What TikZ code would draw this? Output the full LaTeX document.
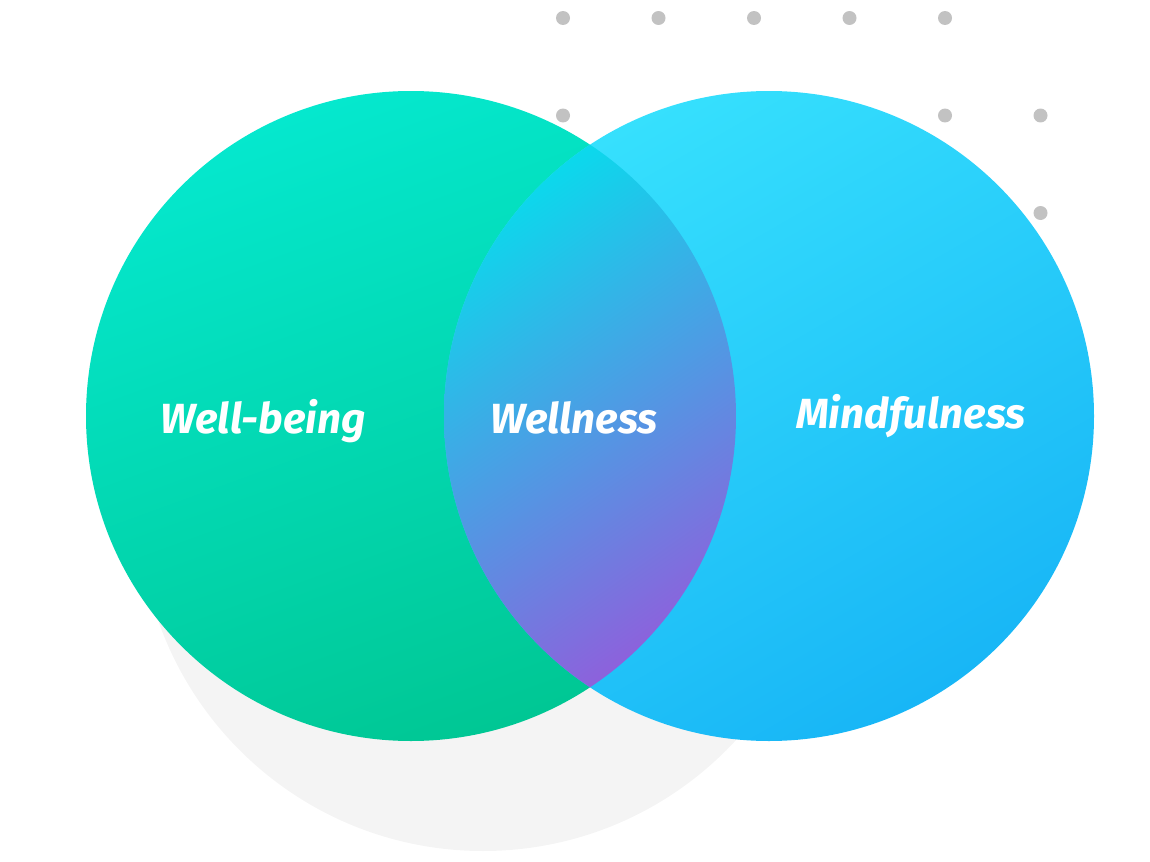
\documentclass[tikz,border=0pt]{standalone}
\usepackage{fontspec}
\newfontfamily\labelfont{Fira Sans}
\usepackage{tikz}
\usetikzlibrary{positioning}
\usetikzlibrary{calc}

\definecolor{wbtop}{HTML}{05E8CE}
\definecolor{wbbot}{HTML}{00C794}
\definecolor{mftop}{HTML}{36E0FD}
\definecolor{mfbot}{HTML}{18B6F6}
\definecolor{wntop}{HTML}{0CD8EC}
\definecolor{wnbot}{HTML}{8C62DC}
\definecolor{backgray}{HTML}{F4F4F4}
\definecolor{dotgray}{HTML}{C2C2C2}

\begin{document}
\begin{tikzpicture}[x=0.02cm, y=-0.02cm,
    dot/.style={circle, fill=dotgray, inner sep=0pt, minimum size=0.28cm},
    vennlabel/.style={inner sep=0pt, anchor=base, text=white, font=\labelfont\bfseries\itshape\fontsize{24}{28}\selectfont}]
      \useasboundingbox (0,0) rectangle (1150,862);
      % Radius of the two venn circles
      \def\radius{325}
      % Position of the first dot and grid steps
      \def\dotx{563}
      \def\doty{18}
      \def\dstep{95.5}
      \def\rstep{97.5}
      % Centres of the circles
      \coordinate (wb) at (411,416);
      \coordinate (mf) at (769,416);
      \coordinate (back) at (483,507);
      % Dots behind the circles, per row the columns that show
      \foreach \row/\cols in {1/{1,2,3,4,5}, 2/{1,5,6}, 3/{6}} {
        \foreach \col in \cols {
          \node[dot] (d\row\col) at ({\dotx + (\col-1)*\dstep}, {\doty + (\row-1)*\rstep}) {};
        }
      }
      % Gray shadow circle
      \fill[backgray] (back) circle (344);
      % Well-being and mindfulness circles
      \shade[top color=wbtop, bottom color=wbbot, shading angle=20] (wb) circle (\radius);
      \shade[top color=mftop, bottom color=mfbot, shading angle=30] (mf) circle (\radius);
      % Overlap of both circles
      \begin{scope}
        \clip (wb) circle (\radius);
        \clip (mf) circle (\radius);
        \shade[top color=wntop, bottom color=wnbot, shading angle=35] (444,145) rectangle (736,687);
      \end{scope}
      % Labels
      \node[vennlabel] (wellbeing) at (263,433) {Well-being};
      \node[vennlabel] (wellness) at (574,433) {Wellness};
      \node[vennlabel] (mindfulness) at (911,428) {Mindfulness};
    \end{tikzpicture}
\end{document}
